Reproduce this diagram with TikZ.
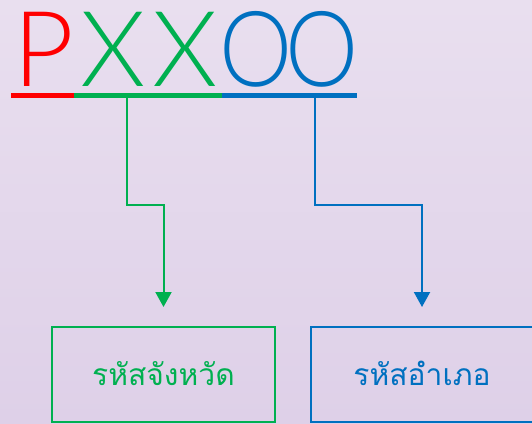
\documentclass[tikz,border=0pt]{standalone}
\usepackage{fontspec}
\setmainfont{Loma}
\newfontfamily\thaifont[Script=Thai]{Loma}
\IfFontExistsTF{Lato Light}{\newfontfamily\letterfont{Lato Light}}{%
  \IfFontExistsTF{Fira Sans Light}{\newfontfamily\letterfont{Fira Sans Light}}{\newfontfamily\letterfont{DejaVu Sans}}}
\usetikzlibrary{arrows.meta}
\definecolor{cred}{RGB}{255,0,0}
\definecolor{cgreen}{RGB}{0,176,80}
\definecolor{cblue}{RGB}{0,112,192}
\definecolor{bgtop}{RGB}{233,223,239}
\definecolor{bgbot}{RGB}{222,208,232}
\tikzset{
  conn/.style={line width=2pt, -{Triangle[width=16pt,length=15pt]}},
  codebox/.style={draw, line width=2pt, minimum width=223pt, minimum height=95pt, inner sep=0pt},
  thailabel/.style={font=\thaifont\fontsize{30}{34}\selectfont, anchor=base, inner sep=0pt},
  bigletter/.style={font=\letterfont\fontsize{105}{105}\selectfont, inner sep=0pt, anchor=base},
}
\begin{document}
\begin{tikzpicture}[x=1pt,y=-1pt]
\useasboundingbox (0,0) rectangle (532,423);
\shade[top color=bgtop, bottom color=bgbot] (0,0) rectangle (532,423);
% letters
\node[bigletter, text=cred] (p) at (44,86) {P};
\node[bigletter, text=cgreen] (x1) at (113.5,86) {X};
\node[bigletter, text=cgreen] (x2) at (185,86) {X};
\node[bigletter, text=cblue, xscale=0.88] (o1) at (256,86) {O};
\node[bigletter, text=cblue, xscale=0.88] (o2) at (322.5,86) {O};
% underline
\coordinate (u0) at (11,95.5);
\coordinate (u1) at (74,95.5);
\coordinate (u2) at (222,95.5);
\coordinate (u3) at (357,95.5);
\draw[cred, line width=4.5pt] (u0) -- (u1);
\draw[cgreen, line width=4.5pt] (u1) -- (u2);
\draw[cblue, line width=4.5pt] (u2) -- (u3);
% boxes
\node[codebox, draw=cgreen] (prov) at (163.5,374.5) {};
\node[codebox, draw=cblue] (dist) at (422,374.5) {};
\node[thailabel, text=cgreen] (provt) at (163.5,385) {รหัสจังหวัด};
\node[thailabel, text=cblue] (distt) at (422,385) {รหัสอำเภอ};
% connectors
\coordinate (gs) at (127,97);
\coordinate (gt) at (163.5,307);
\coordinate (bs) at (315,97);
\coordinate (bt) at (422,307);
\draw[conn, cgreen] (gs) -- (127,205) -- (163.5,205) -- (gt);
\draw[conn, cblue] (bs) -- (315,205) -- (422,205) -- (bt);
\end{tikzpicture}
\end{document}
